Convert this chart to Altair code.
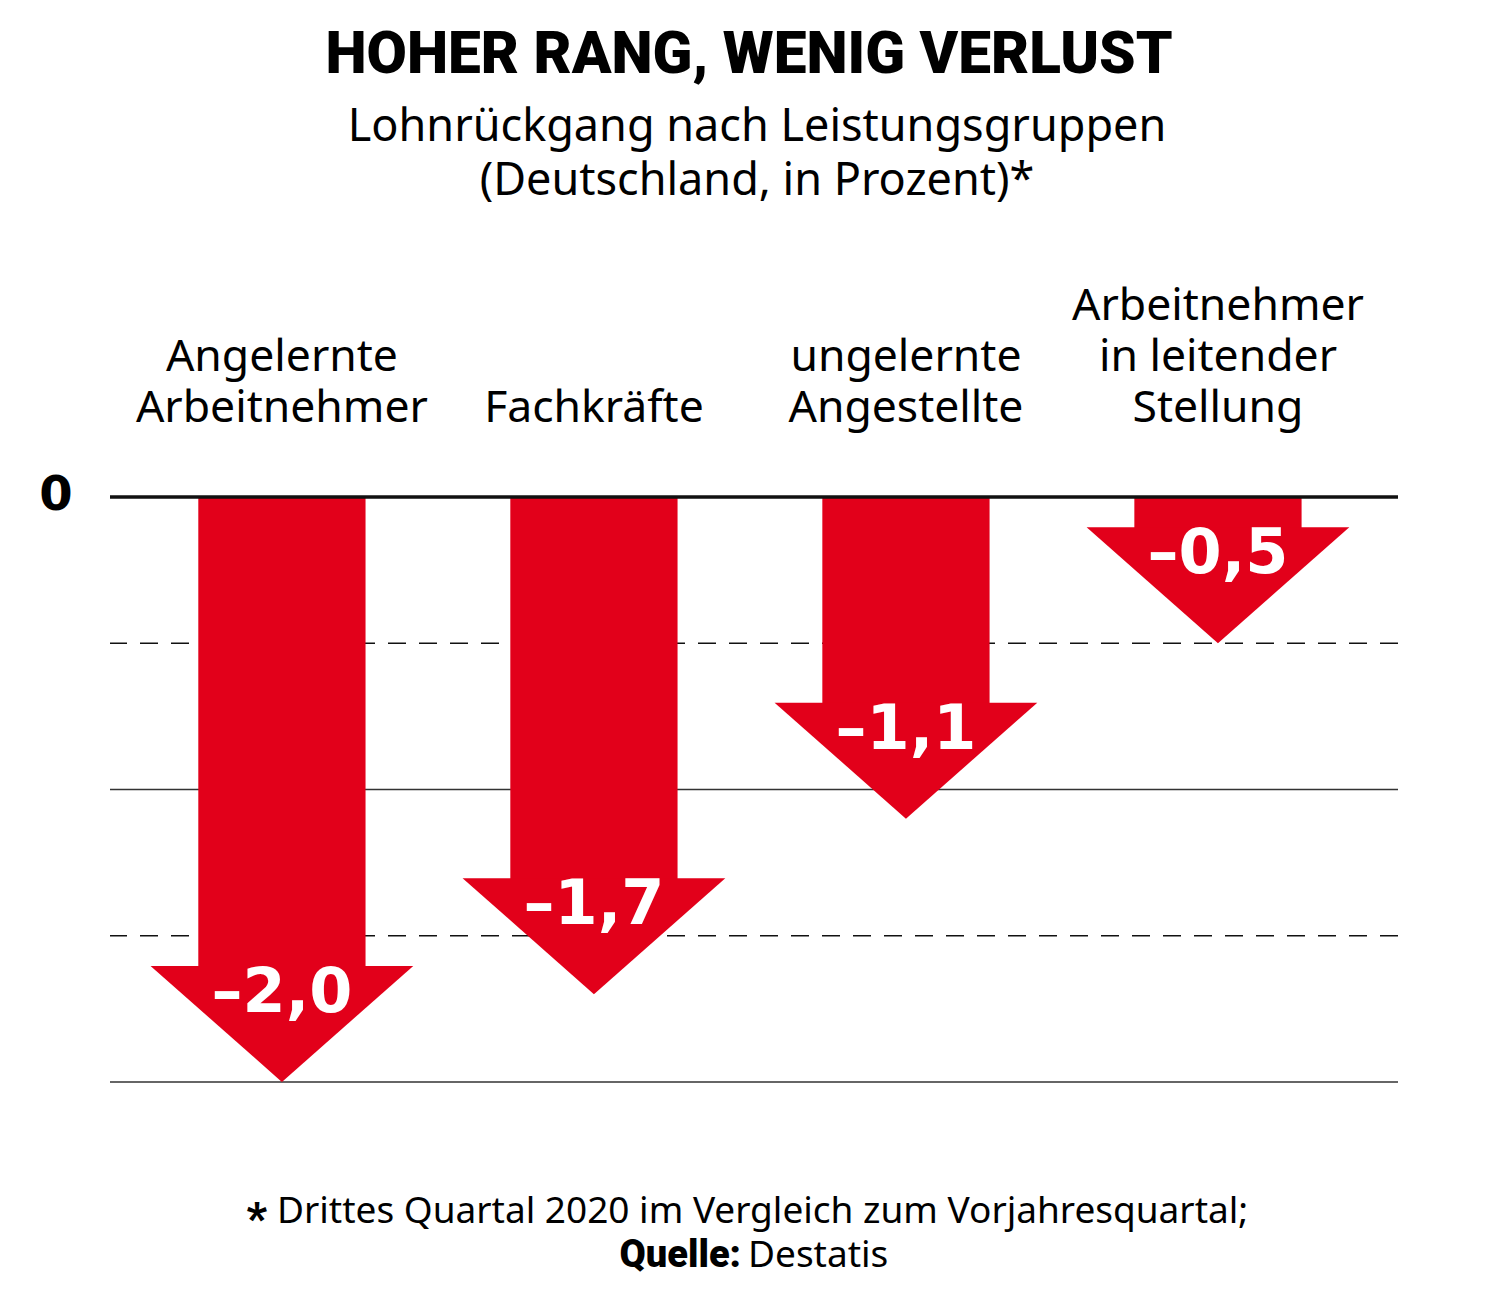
import altair as alt
import pandas as pd

# ---------------- data ----------------
categories = ["Angelernte\nArbeitnehmer", "Fachkräfte", "ungelernte\nAngestellte",
              "Arbeitnehmer\nin leitender\nStellung"]
values = [-2.0, -1.7, -1.1, -0.5]
value_labels = ["–2,0", "–1,7", "–1,1", "–0,5"]
grid_values = [0.0, -0.5, -1.0, -1.5, -2.0]
grid_styles = ["zero", "dash", "solid", "dash", "solid"]
zero_label = ["0"]

title_text = ["HOHER RANG, WENIG VERLUST"]
subtitle_text = ["Lohnrückgang nach Leistungsgruppen\n(Deutschland, in Prozent)*"]
footnote_star = ["*"]
footnote_text = ["Drittes Quartal 2020 im Vergleich zum Vorjahresquartal;"]
source_label = ["Quelle:"]
source_name = ["Destatis"]

# ---------------- style ----------------
RED = "#E2001A"
SHAFT_HALF = 0.268   # half shaft width in category units
HEAD_HALF = 0.421    # half head width in category units
HEAD_LEN = 0.397     # head length in value units
W, H = 1288, 585
PX_PER_UNIT = H / 2.0
X_DOMAIN = [-0.551, 3.577]
Y_DOMAIN = [-2.0, 0.0]
LABEL_FONT = "Noto Sans"
LABEL_LH = 51

pos = list(range(len(categories)))
arrows = pd.DataFrame({
    "pos": pos,
    "cat": categories,
    "value": values,
    "label": value_labels,
})
arrows["top"] = arrows["value"] + HEAD_LEN
arrows["shaft_end"] = arrows["top"] - 0.02
arrows["x1"] = arrows["pos"] - SHAFT_HALF
arrows["x2"] = arrows["pos"] + SHAFT_HALF
# multi-line labels: last line baseline 75px above zero line
arrows["label_y"] = [(75 + (c.count("\n")) * LABEL_LH) / PX_PER_UNIT for c in categories]

head_rows = []
for p, v in zip(pos, values):
    t = v + HEAD_LEN
    head_rows.append({"id": p, "hx": p - HEAD_HALF, "hy": t, "htop": t})
    head_rows.append({"id": p, "hx": p, "hy": v, "htop": t})
    head_rows.append({"id": p, "hx": p + HEAD_HALF, "hy": t, "htop": t})
heads = pd.DataFrame(head_rows)

grid = pd.DataFrame({"g": grid_values, "style": grid_styles})

xs = alt.Scale(domain=X_DOMAIN, nice=False, zero=False)
ys = alt.Scale(domain=Y_DOMAIN, nice=False, zero=False)

base_grid = alt.Chart(grid)
solid_rules = base_grid.transform_filter(alt.datum.style == "solid").mark_rule(
    color="#333333", strokeWidth=1.5
).encode(y=alt.Y("g:Q", scale=ys, axis=None))
dash_rules = base_grid.transform_filter(alt.datum.style == "dash").mark_rule(
    color="#111111", strokeWidth=1.6, strokeDash=[18, 13]
).encode(y=alt.Y("g:Q", scale=ys, axis=None))
zero_rule = base_grid.transform_filter(alt.datum.style == "zero").mark_rule(
    color="#111111", strokeWidth=3.5
).encode(y=alt.Y("g:Q", scale=ys, axis=None))

shafts = alt.Chart(arrows).mark_rect(color=RED).encode(
    x=alt.X("x1:Q", scale=xs, axis=None),
    x2="x2:Q",
    y=alt.Y("shaft_end:Q", scale=ys, axis=None),
    y2=alt.datum(0),
)

head_marks = alt.Chart(heads).mark_area(color=RED, orient="vertical", interpolate="linear").encode(
    x=alt.X("hx:Q", scale=xs, axis=None),
    y=alt.Y("hy:Q", scale=ys, axis=None, stack=None),
    y2="htop:Q",
    detail="id:N",
)

value_text = alt.Chart(arrows).mark_text(
    color="white", font="DejaVu Sans", fontWeight="bold", fontSize=62,
    align="center", baseline="alphabetic", dy=46,
).encode(
    x=alt.X("pos:Q", scale=xs, axis=None),
    y=alt.Y("top:Q", scale=ys, axis=None),
    text="label:N",
)

cat_text = alt.Chart(arrows).mark_text(
    color="black", font=LABEL_FONT, fontSize=44.5, lineBreak="\n", lineHeight=LABEL_LH,
    align="center", baseline="alphabetic",
).encode(
    x=alt.X("pos:Q", scale=xs, axis=None),
    y=alt.Y("label_y:Q", scale=ys, axis=None),
    text="cat:N",
)

zero_text = alt.Chart(pd.DataFrame({"t": zero_label, "z": [0.0]})).mark_text(
    color="black", font="DejaVu Sans", fontWeight="bold", fontSize=48,
    align="center", baseline="alphabetic", dy=13,
).encode(
    x=alt.value(-54),
    y=alt.Y("z:Q", scale=ys, axis=None),
    text="t:N",
)

title_mark = alt.Chart(pd.DataFrame({"t": title_text})).mark_text(
    color="black", font="Roboto", fontWeight=900, fontSize=58.5,
    align="center", baseline="alphabetic",
).encode(x=alt.value(639), y=alt.value(-424), text="t:N")

subtitle_mark = alt.Chart(pd.DataFrame({"t": subtitle_text})).mark_text(
    color="black", font=LABEL_FONT, fontSize=45, lineBreak="\n", lineHeight=54,
    align="center", baseline="alphabetic",
).encode(x=alt.value(647), y=alt.value(-356), text="t:N")

star_mark = alt.Chart(pd.DataFrame({"t": footnote_star})).mark_text(
    color="black", font="Roboto", fontWeight=900, fontSize=44,
    align="right", baseline="alphabetic",
).encode(x=alt.value(157), y=alt.value(737), text="t:N")

foot_mark = alt.Chart(pd.DataFrame({"t": footnote_text})).mark_text(
    color="black", font=LABEL_FONT, fontSize=37,
    align="left", baseline="alphabetic",
).encode(x=alt.value(167), y=alt.value(726), text="t:N")

quelle_mark = alt.Chart(pd.DataFrame({"t": source_label})).mark_text(
    color="black", font="Roboto", fontWeight=900, fontSize=38,
    align="right", baseline="alphabetic",
).encode(x=alt.value(631), y=alt.value(770), text="t:N")

source_mark = alt.Chart(pd.DataFrame({"t": source_name})).mark_text(
    color="black", font=LABEL_FONT, fontSize=37,
    align="left", baseline="alphabetic",
).encode(x=alt.value(638), y=alt.value(770), text="t:N")

chart = alt.layer(
    solid_rules, dash_rules, shafts, head_marks, zero_rule, value_text,
    cat_text, zero_text, title_mark, subtitle_mark,
    star_mark, foot_mark, quelle_mark, source_mark,
).properties(
    width=W, height=H,
    background="white",
    autosize=alt.AutoSizeParams(type="none"),
    padding={"left": 102, "top": 489, "right": 94, "bottom": 205},
).configure_view(stroke=None)

chart.save("out.html", embed_options={"renderer": "svg", "actions": False})
